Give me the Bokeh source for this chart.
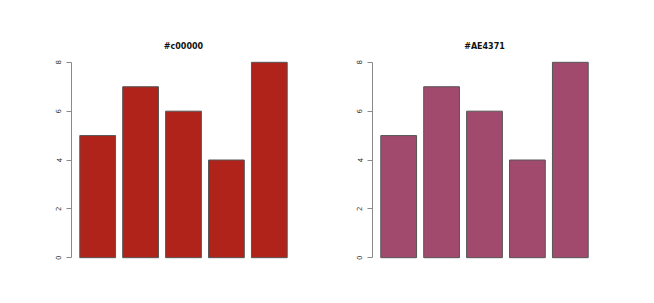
from bokeh.plotting import figure
from bokeh.layouts import row
from bokeh.models import Range1d, FixedTicker
from bokeh.embed import file_html
from bokeh.resources import INLINE

values = [5, 7, 6, 4, 8]
titles = ["#c00000", "#AE4371"]
fills = ["#B0231A", "#A24A6E"]
ticks = [0, 2, 4, 6, 8]

# R barplot geometry: width 1, space 0.2
centers = [0.7 + 1.2 * i for i in range(len(values))]


def panel(title, fill, left, right, top):
    p = figure(width=327, height=303, output_backend="svg", toolbar_location=None,
               x_range=Range1d(-0.032, 6.232), y_range=Range1d(-0.32, 8.32),
               min_border_left=left, min_border_right=right,
               min_border_top=top, min_border_bottom=91 - top)
    p.vbar(x=centers, top=values, bottom=0, width=1.0, fill_color=fill,
           line_color="#555555", line_width=1)
    p.title.text = title
    p.title.align = "center"
    p.title.text_font = "DejaVu Sans"
    p.title.text_font_size = "8px"
    p.title.text_font_style = "bold"
    p.title.text_color = "#111111"
    p.title.standoff = 7
    p.xaxis.visible = False
    p.xgrid.visible = False
    p.ygrid.visible = False
    p.outline_line_color = None
    ax = p.yaxis[0]
    ax.ticker = FixedTicker(ticks=ticks)
    ax.bounds = (0, 8)
    ax.axis_line_color = "#8a8a8a"
    ax.major_tick_line_color = "#8a8a8a"
    ax.major_tick_out = 5
    ax.major_tick_in = 0
    ax.minor_tick_line_color = None
    ax.major_label_orientation = "vertical"
    ax.major_label_text_font = "DejaVu Sans"
    ax.major_label_text_font_size = "7px"
    ax.major_label_text_color = "#333333"
    ax.major_label_standoff = 5
    return p


p1 = panel(titles[0], fills[0], 71, 32, 54)
p2 = panel(titles[1], fills[1], 45, 58, 53)
p = row(p1, p2)
open("out.html", "w").write(file_html(p, INLINE))
